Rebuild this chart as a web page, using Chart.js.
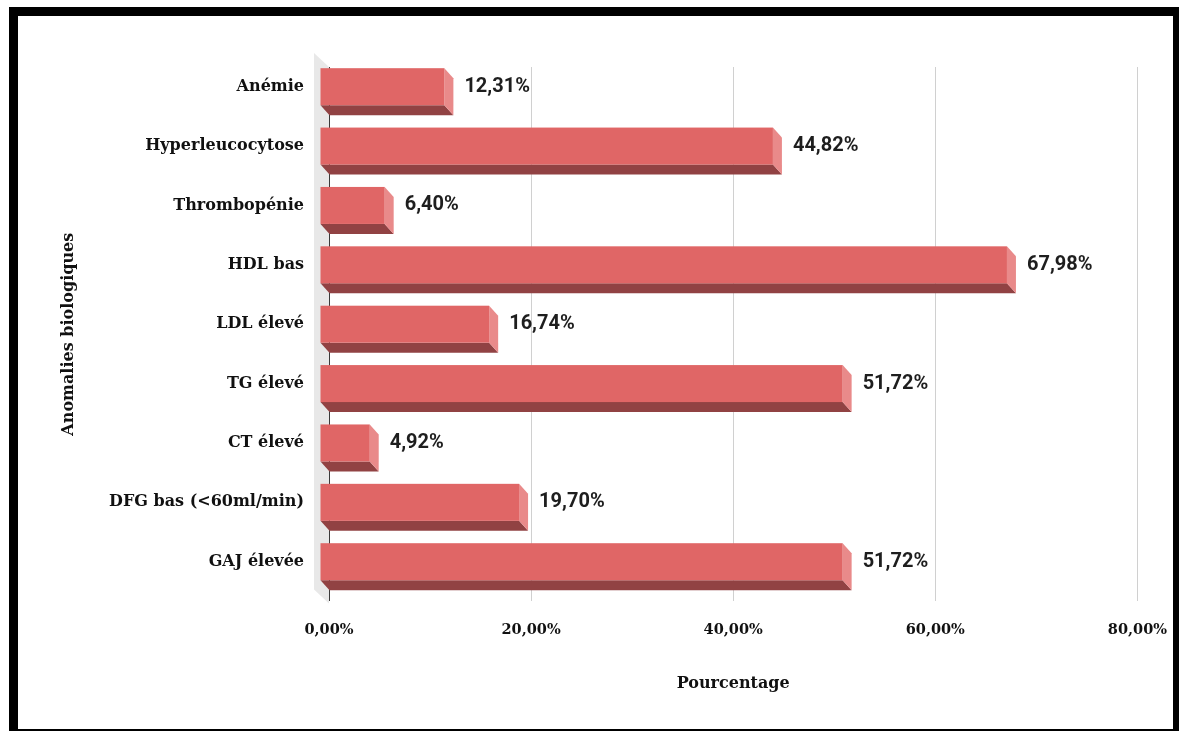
<!DOCTYPE html>
<html lang="fr">
<head>
<meta charset="utf-8">
<title>Anomalies biologiques</title>
<script src="https://cdn.jsdelivr.net/npm/chart.js@4.4.1/dist/chart.umd.min.js"></script>
<style>
  html, body { margin: 0; padding: 0; background: #fff; }
  #wrap { position: relative; width: 1179px; height: 731px; overflow: hidden; }
  #graph { position: absolute; left: 0; top: 0; }
  #cadre {
    position: absolute; left: 9px; top: 7px; width: 1170px; height: 724px;
    box-sizing: border-box; border-style: solid; border-color: #000;
    border-width: 9px 6px 2px 9px; pointer-events: none;
  }
</style>
</head>
<body>
<div id="wrap">
  <canvas id="graph" width="1187" height="731"></canvas>
  <div id="cadre"></div>
</div>
<script>
const categories = [
  'Anémie', 'Hyperleucocytose', 'Thrombopénie', 'HDL bas', 'LDL élevé',
  'TG élevé', 'CT élevé', 'DFG bas (<60ml/min)', 'GAJ élevée'
];
const valeurs = [12.31, 44.82, 6.40, 67.98, 16.74, 51.72, 4.92, 19.70, 51.72];
const axeMin = 0;
const axeMax = 80;
const axePas = 20;

const pourcent = v => Number(v).toFixed(2).replace('.', ',') + '%';

// décalage de la face avant par rapport au plan du fond (effet 3D)
const DX = 9, DY = 10;
const serif = { family: "'DejaVu Serif', serif", weight: 'bold' };

const barres3d = {
  id: 'barres3d',
  beforeDraw(chart) {
    // paroi grise à gauche
    const { ctx, chartArea: a } = chart;
    ctx.save();
    ctx.fillStyle = '#e8e8e8';
    ctx.beginPath();
    ctx.moveTo(a.left - 15, a.top - 14);
    ctx.lineTo(a.left, a.top);
    ctx.lineTo(a.left, a.bottom + 2);
    ctx.lineTo(a.left - 15, a.bottom - 12);
    ctx.closePath();
    ctx.fill();
    ctx.restore();
  },
  beforeDatasetDraw() {
    return false;
  },
  afterDatasetsDraw(chart) {
    const { ctx } = chart;
    const meta = chart.getDatasetMeta(0);
    ctx.save();
    meta.data.forEach((bar, i) => {
      const { x, y, base, height } = bar.getProps(['x', 'y', 'base', 'height'], true);
      const haut = y - height / 2 - DY;
      const bas = y + height / 2 - DY;
      const g = base - DX;
      const d = x - DX;

      // dessous
      ctx.fillStyle = '#914243';
      ctx.beginPath();
      ctx.moveTo(g, bas);
      ctx.lineTo(d, bas);
      ctx.lineTo(x, bas + DY);
      ctx.lineTo(base, bas + DY);
      ctx.closePath();
      ctx.fill();

      // flanc droit
      ctx.fillStyle = '#e98a8a';
      ctx.beginPath();
      ctx.moveTo(d, haut);
      ctx.lineTo(x, haut + DY);
      ctx.lineTo(x, bas + DY);
      ctx.lineTo(d, bas);
      ctx.closePath();
      ctx.fill();

      // face avant
      ctx.fillStyle = '#e06666';
      ctx.fillRect(g, haut, d - g, bas - haut);

      // valeur
      ctx.fillStyle = '#1e1e1e';
      ctx.font = "bold 20px Roboto, sans-serif";
      ctx.textAlign = 'left';
      ctx.textBaseline = 'middle';
      ctx.fillText(pourcent(valeurs[i]), x + 11, y - DY);
    });
    ctx.restore();
  }
};

new Chart(document.getElementById('graph'), {
  type: 'bar',
  data: {
    labels: categories,
    datasets: [{ data: valeurs, backgroundColor: '#e06666', barThickness: 37 }]
  },
  options: {
    indexAxis: 'y',
    responsive: false,
    animation: false,
    devicePixelRatio: 1,
    layout: { padding: { left: 40, right: 0, top: 67, bottom: 38 } },
    plugins: { legend: { display: false }, tooltip: { enabled: false } },
    scales: {
      x: {
        min: axeMin,
        max: axeMax,
        ticks: {
          stepSize: axePas,
          padding: 20,
          color: '#111',
          font: { ...serif, size: 14.5 },
          callback: v => pourcent(v)
        },
        grid: {
          drawTicks: false,
          lineWidth: 1,
          color: c => (c.tick && c.tick.value === 0 ? '#3a3a3a' : '#d0d0d0')
        },
        border: { display: false },
        title: {
          display: true,
          text: 'Pourcentage',
          color: '#111',
          font: { ...serif, size: 16 },
          padding: { top: 15, bottom: 0 }
        }
      },
      y: {
        grid: { display: false, drawTicks: false },
        border: { display: false },
        ticks: {
          padding: 25,
          labelOffset: -DY,
          color: '#111',
          font: { ...serif, size: 16 }
        },
        title: {
          display: true,
          text: 'Anomalies biologiques',
          color: '#111',
          font: { ...serif, size: 16 },
          padding: { top: 19, bottom: 0 }
        },
        afterFit(s) { s.width = 289; }
      }
    }
  },
  plugins: [barres3d]
});
</script>
</body>
</html>
